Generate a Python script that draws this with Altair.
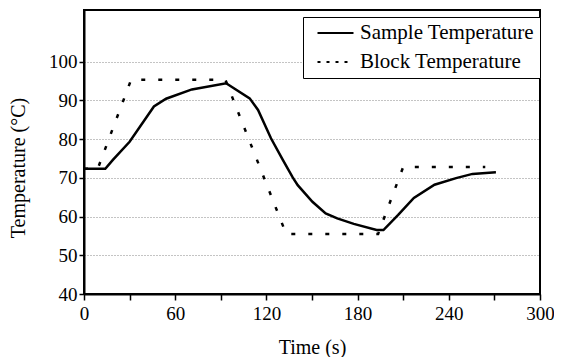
import altair as alt
import pandas as pd

# ---- data ----
sample_t = [0, 14, 19, 30, 46, 54, 71, 93.5, 109, 114.5, 123, 130.8, 137.3, 140.6,
            150.3, 159, 166.6, 177.5, 192.5, 197, 206.7, 217, 230.6, 244.8, 255.6, 271]
sample_v = [72.3, 72.3, 74.6, 79.3, 88.4, 90.4, 92.8, 94.4, 90.5, 87.5, 80.2, 74.6,
            70.1, 68.1, 63.8, 60.8, 59.5, 58.1, 56.5, 56.5, 60.4, 64.8, 68.2, 69.9,
            71.0, 71.4]
block_t = [0, 9, 31, 93, 133, 193.5, 210, 264]
block_v = [72.3, 72.3, 95.3, 95.3, 55.5, 55.5, 72.8, 72.8]
series_names = ["Sample Temperature", "Block Temperature"]
x_ticks = [0, 30, 60, 90, 120, 150, 180, 210, 240, 270, 300]
y_ticks = [40, 50, 60, 70, 80, 90, 100]

df = pd.concat([
    pd.DataFrame({"t": sample_t, "v": sample_v, "series": series_names[0]}),
    pd.DataFrame({"t": block_t, "v": block_v, "series": series_names[1]}),
], ignore_index=True)

FONT = "Liberation Serif"

x_enc = alt.X("t:Q", scale=alt.Scale(domain=[0, 300], nice=False),
              axis=alt.Axis(values=x_ticks, labelExpr="datum.value % 60 == 0 ? datum.label : ''",
                            grid=False, title="Time (s)", tickSize=6, labelPadding=4,
                            labelFlush=False,
                            titleBaseline="alphabetic", titleY=59))
y_enc = alt.Y("v:Q", scale=alt.Scale(domain=[40, 113.3], nice=False, zero=False),
              axis=alt.Axis(values=y_ticks, grid=True, title="Temperature (°C)", tickSize=5,
                            labelPadding=2, titleAngle=270, titleBaseline="middle",
                            titleX=-66, titleY=157.5))

base = alt.Chart(df)

legend_layer = base.mark_line(opacity=0).encode(
    x=x_enc, y=y_enc,
    strokeDash=alt.StrokeDash(
        "series:N",
        scale=alt.Scale(domain=series_names, range=[[1, 0], [3, 6]]),
        legend=alt.Legend(title=None, orient="none", legendX=219, legendY=7,
                          symbolOpacity=1, symbolOffset=8,
                          symbolType="stroke", symbolStrokeColor="black",
                          symbolStrokeWidth=2.2, symbolSize=1296, labelFont=FONT,
                          labelFontSize=21, labelColor="black", labelOffset=5,
                          strokeColor="black", fillColor="white", padding=5,
                          clipHeight=22, rowPadding=7, labelLimit=400),
    ),
)

sample_line = base.transform_filter(alt.datum.series == series_names[0]).mark_line(
    color="black", strokeWidth=2.5).encode(x=x_enc, y=y_enc)
block_line = base.transform_filter(alt.datum.series == series_names[1]).mark_line(
    color="black", strokeWidth=2.5, strokeDash=[4, 13]).encode(x=x_enc, y=y_enc)

chart = alt.layer(block_line, sample_line, legend_layer).properties(
    width=456, height=284,
    padding={"left": 76, "top": 2, "right": 14, "bottom": 63},
    autosize=alt.AutoSizeParams(type="none"),
    background="white",
).configure_view(
    stroke="black", strokeWidth=2
).configure_axis(
    domainColor="black", domainWidth=2, tickColor="black", tickWidth=1.5,
    labelFont=FONT, labelFontSize=19, labelColor="black",
    titleFont=FONT, titleFontSize=20, titleColor="black", titleFontWeight="normal",
    gridColor="#888888", gridDash=[1, 2], gridWidth=1,
)

chart.save("out.html", embed_options={"renderer": "svg", "actions": False})
